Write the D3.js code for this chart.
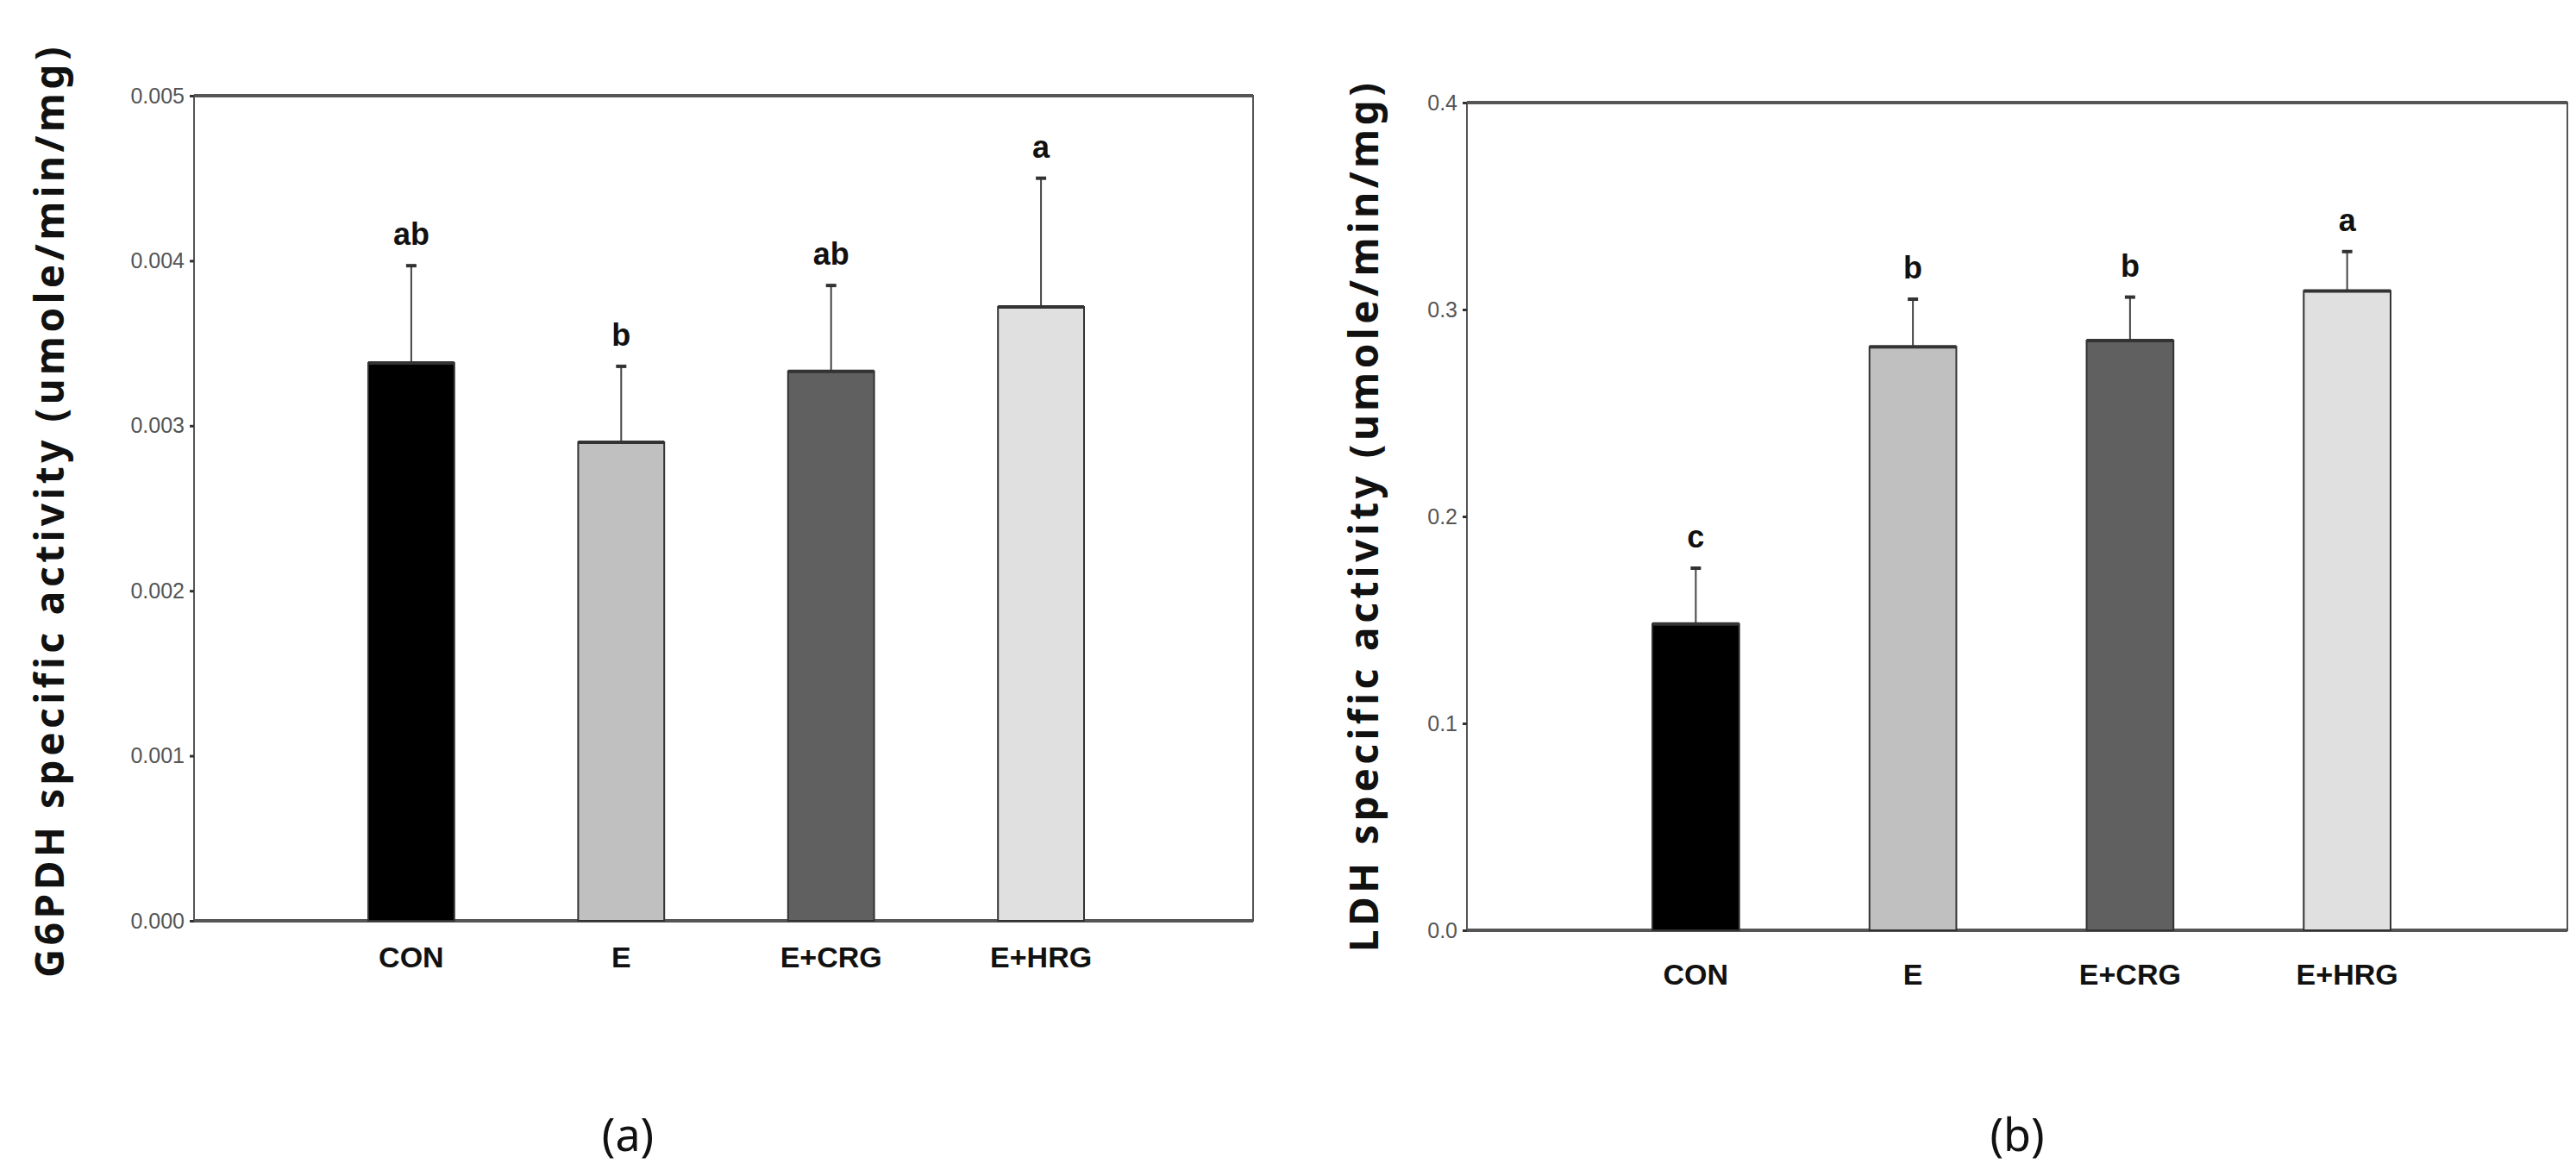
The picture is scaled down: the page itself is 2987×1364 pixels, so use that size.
<!DOCTYPE html>
<html><head><meta charset="utf-8">
<script src="https://cdn.jsdelivr.net/npm/d3@7"></script>
<style>body{margin:0;background:#fff}</style></head>
<body><svg id="c" width="2987" height="1364"></svg>
<script>
const categories = ["CON","E","E+CRG","E+HRG"];
const colors = ["#000000","#c0c0c0","#606060","#e0e0e0"];
const g6pdhMean = [0.00338,0.00290,0.00333,0.00372];
const g6pdhErr = [0.00059,0.00046,0.00052,0.00078];
const g6pdhLetters = ["ab","b","ab","a"];
const g6pdhTicks = [0,0.001,0.002,0.003,0.004,0.005];
const ldhMean = [0.148,0.282,0.285,0.309];
const ldhErr = [0.027,0.023,0.021,0.019];
const ldhLetters = ["c","b","b","a"];
const ldhTicks = [0,0.1,0.2,0.3,0.4];

const svg = d3.select("#c");
const narrow = "Liberation Sans Narrow, Liberation Sans, sans-serif";
function panel(o){
  const g = svg.append("g");
  const y = d3.scaleLinear().domain([0,o.max]).range([o.bottom,o.top]);
  const x = d3.scaleBand().domain(categories).range([o.x0,o.x1]).paddingInner(o.pad).paddingOuter(0);
  g.append("rect").attr("x",o.left).attr("y",o.top).attr("width",o.right-o.left).attr("height",o.bottom-o.top)
    .attr("fill","none").attr("stroke","#555").attr("stroke-width",2);
  g.append("line").attr("x1",o.left).attr("x2",o.right).attr("y1",o.top).attr("y2",o.top).attr("stroke","#555").attr("stroke-width",4);
  g.append("line").attr("x1",o.left).attr("x2",o.right).attr("y1",o.bottom).attr("y2",o.bottom).attr("stroke","#555").attr("stroke-width",4);
  const ax = d3.axisLeft(y).tickValues(o.ticks).tickFormat(d3.format(o.fmt)).tickSize(5).tickPadding(6);
  const ag = g.append("g").attr("transform",`translate(${o.left},0)`).call(ax);
  ag.select(".domain").remove();
  ag.selectAll("line").attr("stroke","#333").attr("stroke-width",3);
  ag.selectAll("text").attr("font-family",narrow).attr("font-size",25).attr("fill","#555");
  categories.forEach((c,i)=>{
    const bx = x(c), bw = x.bandwidth();
    const top = y(o.mean[i]), et = y(o.mean[i]+o.err[i]);
    g.append("line").attr("x1",bx+bw/2).attr("x2",bx+bw/2).attr("y1",top).attr("y2",et).attr("stroke","#444").attr("stroke-width",2);
    g.append("line").attr("x1",bx+bw/2-6).attr("x2",bx+bw/2+6).attr("y1",et).attr("y2",et).attr("stroke","#333").attr("stroke-width",4);
    g.append("rect").attr("x",bx).attr("y",top).attr("width",bw).attr("height",o.bottom-top)
      .attr("fill",colors[i]).attr("stroke","#333").attr("stroke-width",2);
    g.append("line").attr("x1",bx).attr("x2",bx+bw).attr("y1",top).attr("y2",top).attr("stroke","#333").attr("stroke-width",4);
    g.append("text").attr("x",bx+bw/2).attr("y",et-24).attr("text-anchor","middle")
      .attr("font-family",narrow).attr("font-weight","bold").attr("font-size",36).attr("fill","#111").text(o.letters[i]);
    g.append("text").attr("x",bx+bw/2).attr("y",o.labY).attr("text-anchor","middle")
      .attr("font-family",narrow).attr("font-weight","bold").attr("font-size",34).attr("fill","#111").text(c);
  });
  g.append("text").attr("transform",`translate(${o.titleX},${o.titleY}) rotate(-90)`).attr("text-anchor","middle")
    .attr("font-family","Noto Sans, sans-serif").attr("font-weight","bold").attr("font-size",46).attr("letter-spacing",4.5).attr("fill","#111").text(o.title);
  g.append("text").attr("x",o.panelX).attr("y",1335).attr("text-anchor","middle")
    .attr("font-family","Noto Sans, sans-serif").attr("font-size",52).attr("fill","#111").text(o.panel);
}
panel({left:225,right:1453,top:111,bottom:1068,x0:427,x1:1257,pad:0.59,max:0.005,ticks:g6pdhTicks,fmt:".3f",
  mean:g6pdhMean,err:g6pdhErr,letters:g6pdhLetters,labY:1122,titleX:74,titleY:592,title:"G6PDH specific activity (umole/min/mg)",panelX:728,panel:"(a)"});
panel({left:1701,right:2977,top:119,bottom:1079,x0:1916,x1:2772,pad:0.6,max:0.4,ticks:ldhTicks,fmt:".1f",
  mean:ldhMean,err:ldhErr,letters:ldhLetters,labY:1142,titleX:1598,titleY:598,title:"LDH specific activity (umole/min/mg)",panelX:2339,panel:"(b)"});
</script></body></html>
